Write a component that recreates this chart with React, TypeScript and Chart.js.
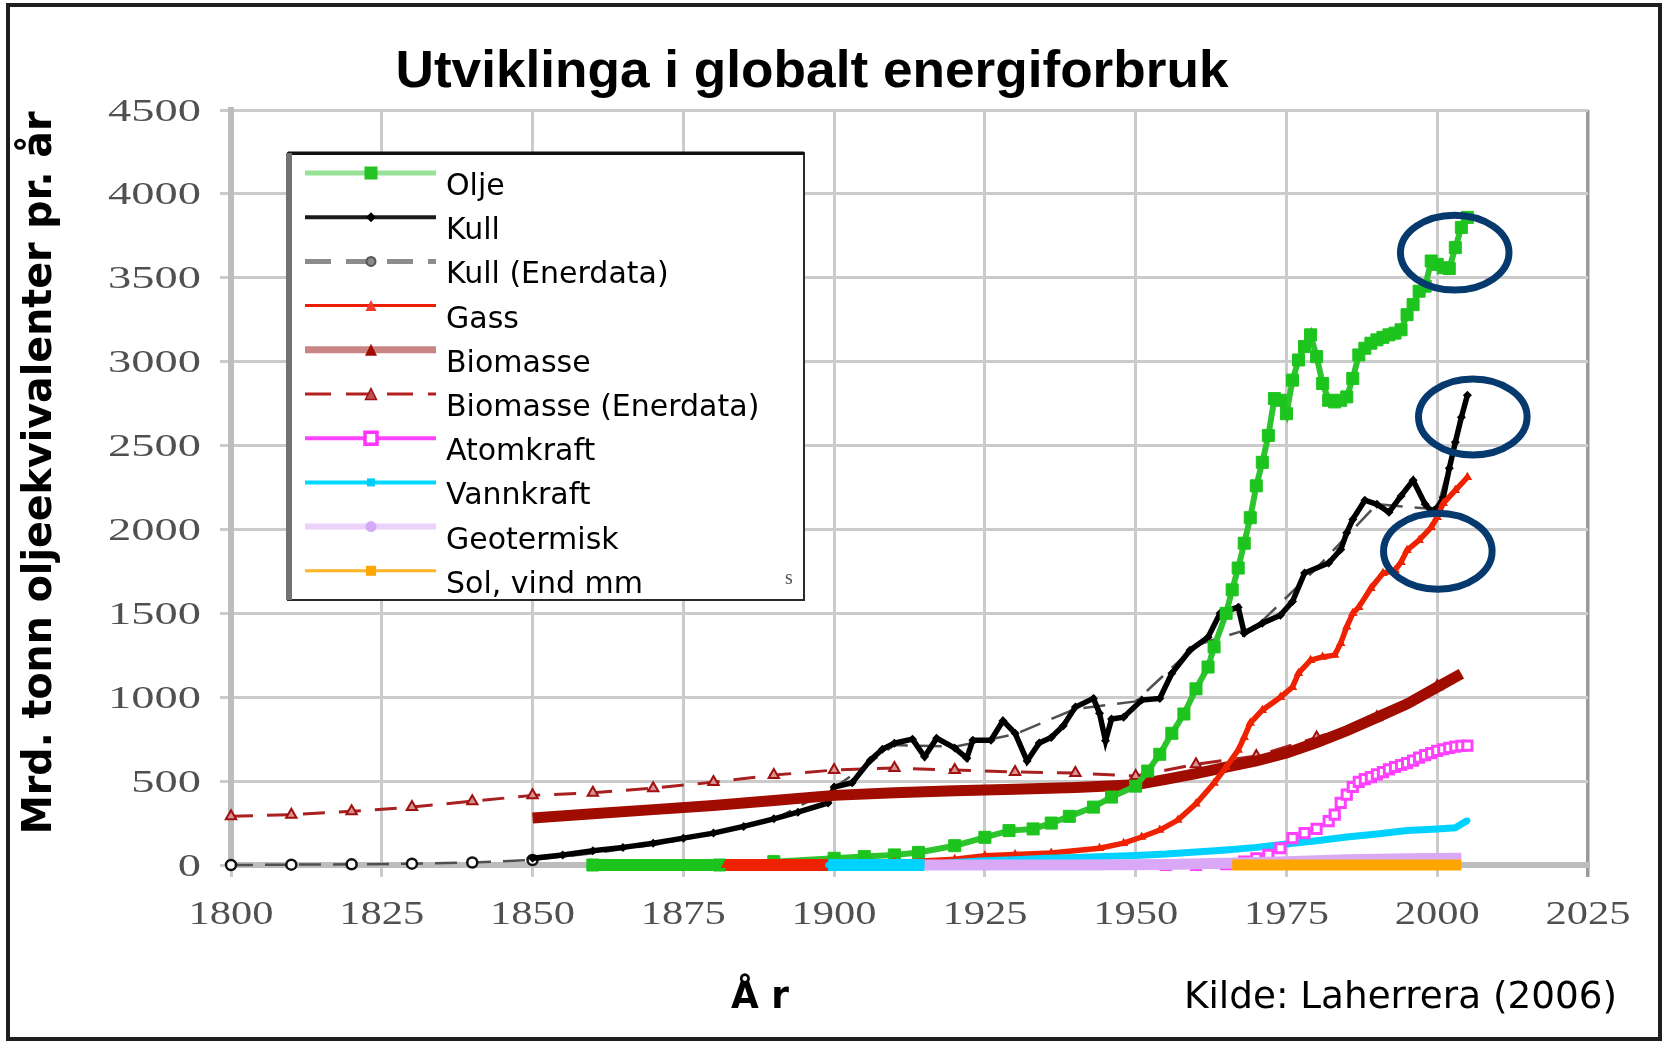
import React, { useEffect, useRef } from 'react';
import { Chart, registerables } from 'chart.js';

Chart.register(...registerables);

type Pt = [number, number];

const xTickValues = [1800, 1825, 1850, 1875, 1900, 1925, 1950, 1975, 2000, 2025];
const yTickValues = [0, 500, 1000, 1500, 2000, 2500, 3000, 3500, 4000, 4500];

const olje: Pt[] = [
  [1860, 0], [1881, 0], [1890, 20], [1900, 40], [1905, 50], [1910, 60], [1914, 75], [1920, 115],
  [1925, 165], [1929, 205], [1933, 215], [1936, 250], [1939, 290], [1943, 345], [1946, 405],
  [1950, 470], [1952, 560], [1954, 660], [1956, 785], [1958, 900], [1960, 1050], [1962, 1180],
  [1963, 1300], [1965, 1500], [1966, 1640], [1967, 1770], [1968, 1918], [1969, 2070], [1970, 2260],
  [1971, 2400], [1972, 2560], [1973, 2780], [1974, 2770], [1975, 2690], [1976, 2890], [1977, 3010],
  [1978, 3090], [1979, 3160], [1980, 3030], [1981, 2870], [1982, 2770], [1983, 2760], [1984, 2770],
  [1985, 2790], [1986, 2900], [1987, 3040], [1988, 3080], [1989, 3110], [1990, 3130], [1991, 3145],
  [1992, 3160], [1993, 3170], [1994, 3190], [1995, 3280], [1996, 3340], [1997, 3420], [1998, 3450],
  [1999, 3600], [2000, 3580], [2001, 3560], [2002, 3555], [2003, 3680], [2004, 3800], [2005, 3860],
];

const kull: Pt[] = [
  [1850, 40], [1855, 60], [1860, 85], [1865, 105], [1870, 130], [1875, 160], [1880, 190], [1885, 230],
  [1890, 275], [1894, 315], [1899, 370], [1900, 465], [1903, 490], [1906, 625], [1908, 690],
  [1910, 726], [1913, 750], [1915, 645], [1917, 756], [1920, 697], [1922, 637], [1923, 744],
  [1926, 744], [1928, 860], [1930, 786], [1932, 620], [1934, 727], [1936, 760], [1938, 830],
  [1940, 941], [1943, 993], [1944, 905], [1945, 740], [1946, 870], [1948, 881], [1951, 983],
  [1954, 993], [1956, 1143], [1959, 1280], [1962, 1358], [1964, 1500], [1967, 1537], [1968, 1382],
  [1971, 1441], [1974, 1489], [1976, 1570], [1978, 1740], [1982, 1800], [1984, 1880], [1985, 1980],
  [1986, 2060], [1988, 2174], [1990, 2150], [1992, 2102], [1994, 2200], [1996, 2293], [1998, 2150],
  [1999, 2110], [2000, 2130], [2001, 2190], [2002, 2364], [2003, 2519], [2004, 2668], [2005, 2800],
];

const kullEnerdata: Pt[] = [
  [1800, 0], [1810, 2], [1820, 4], [1830, 8], [1840, 15], [1850, 30], [1860, 70], [1870, 120],
  [1880, 185], [1890, 270], [1900, 460], [1910, 715], [1920, 705], [1930, 780], [1940, 930],
  [1950, 975], [1960, 1310], [1970, 1420], [1980, 1770], [1990, 2150], [2000, 2120], [2005, 2790],
];

const gass: Pt[] = [
  [1882, 0], [1899, 0], [1910, 15], [1920, 35], [1925, 55], [1930, 62], [1936, 72], [1944, 100],
  [1948, 130], [1951, 167], [1954, 208], [1957, 268], [1960, 365], [1963, 488], [1965, 584],
  [1967, 685], [1968, 762], [1969, 846], [1971, 923], [1974, 1000], [1976, 1060], [1977, 1143],
  [1979, 1221], [1981, 1240], [1983, 1251], [1984, 1322], [1985, 1420], [1986, 1500], [1987, 1537],
  [1989, 1650], [1991, 1739], [1993, 1757], [1994, 1805], [1995, 1876], [1997, 1936], [1999, 2013],
  [2000, 2073], [2001, 2156], [2003, 2233], [2005, 2311],
];

const biomasse: Pt[] = [
  [1850, 280], [1860, 305], [1870, 330], [1880, 355], [1890, 385], [1900, 415], [1910, 430],
  [1920, 442], [1930, 452], [1940, 462], [1950, 478], [1955, 510], [1960, 545], [1965, 583],
  [1970, 620], [1975, 667], [1980, 730], [1985, 800], [1990, 880], [1995, 960], [2000, 1060],
  [2004, 1140],
];

const biomasseEnerdata: Pt[] = [
  [1800, 290], [1810, 300], [1820, 320], [1830, 345], [1840, 380], [1850, 415], [1860, 430],
  [1870, 458], [1880, 494], [1890, 536], [1900, 566], [1910, 578], [1920, 566], [1930, 555],
  [1940, 548], [1950, 530], [1960, 600], [1970, 650], [1980, 760], [1990, 880], [2000, 1066],
];

const atomkraft: Pt[] = [
  [1955, 0], [1960, 0], [1965, 5], [1968, 20], [1970, 40], [1972, 60], [1974, 100], [1976, 160],
  [1978, 190], [1980, 215], [1982, 262], [1983, 300], [1984, 370], [1985, 420], [1986, 465],
  [1987, 495], [1988, 512], [1989, 524], [1990, 540], [1991, 554], [1992, 570], [1993, 584],
  [1994, 596], [1995, 607], [1996, 622], [1997, 640], [1998, 655], [1999, 667], [2000, 680],
  [2001, 690], [2002, 698], [2003, 705], [2004, 710], [2005, 712],
];

const vannkraft: Pt[] = [
  [1899, 0], [1915, 0], [1920, 15], [1925, 25], [1930, 32], [1935, 40], [1940, 45], [1945, 50],
  [1950, 57], [1955, 65], [1960, 78], [1965, 90], [1970, 105], [1975, 125], [1980, 145],
  [1985, 167], [1990, 185], [1995, 205], [2000, 215], [2003, 222], [2005, 265],
];

const geotermisk: Pt[] = [
  [1915, 0], [1940, 0], [1955, 3], [1965, 10], [1975, 20], [1985, 32], [1995, 38], [2004, 40],
];

const solVind: Pt[] = [[1966, 0], [2004, 0]];

const seriesNames = [
  'Olje', 'Kull', 'Kull (Enerdata)', 'Gass', 'Biomasse', 'Biomasse (Enerdata)',
  'Atomkraft', 'Vannkraft', 'Geotermisk', 'Sol, vind mm',
];

// highlighted regions (centre year/value and half-extent in years/value)
const highlightCenters: Pt[] = [[2002.9, 3650], [2005.9, 2670], [2000.1, 1870]];
const highlightHalfSizes: Pt[] = [[9, 223], [9, 226], [9, 226]];

const TITLE = 'Utviklinga i globalt energiforbruk';
const Y_TITLE = 'Mrd. tonn oljeekvivalenter pr. år';
const X_TITLE = 'Å r';
const SOURCE = 'Kilde: Laherrera (2006)';

type LegendStyle = {
  line: string; lw: number; dash: number[];
  marker: string; mFill: string | null; mStroke: string | null; mLw: number; mSize: number;
};

const legendStyles: LegendStyle[] = [
  { line: '#96e296', lw: 5, dash: [], marker: 'rect', mFill: '#22c322', mStroke: null, mLw: 0, mSize: 13 },
  { line: '#1a1a1a', lw: 4, dash: [], marker: 'diamond', mFill: '#000', mStroke: null, mLw: 0, mSize: 10 },
  { line: '#8c8c8c', lw: 5, dash: [26, 15], marker: 'circle', mFill: '#8a8a8a', mStroke: '#555', mLw: 2, mSize: 9 },
  { line: '#ee1c00', lw: 3, dash: [], marker: 'triangle', mFill: '#f03a2a', mStroke: null, mLw: 0, mSize: 11 },
  { line: '#c98484', lw: 7, dash: [], marker: 'triangle', mFill: '#a00c00', mStroke: null, mLw: 0, mSize: 12 },
  { line: '#b02020', lw: 3, dash: [26, 15], marker: 'triangle', mFill: '#c05050', mStroke: '#a01010', mLw: 1.5, mSize: 11 },
  { line: '#ff44ff', lw: 4, dash: [], marker: 'rect', mFill: '#ffffff', mStroke: '#ff33ff', mLw: 3.5, mSize: 12 },
  { line: '#00d8ff', lw: 4, dash: [], marker: 'rect', mFill: '#00ccf5', mStroke: null, mLw: 0, mSize: 8 },
  { line: '#ecd2fa', lw: 6, dash: [], marker: 'circle', mFill: '#d4aaf8', mStroke: null, mLw: 0, mSize: 11 },
  { line: '#ffb424', lw: 3, dash: [], marker: 'rect', mFill: '#ffa500', mStroke: null, mLw: 0, mSize: 10 },
];

function drawMarker(ctx: CanvasRenderingContext2D, kind: string, x: number, y: number, s: number,
  fill: string | null, stroke: string | null, lw: number) {
  ctx.save();
  ctx.setLineDash([]);
  ctx.beginPath();
  if (kind === 'rect') ctx.rect(x - s / 2, y - s / 2, s, s);
  else if (kind === 'diamond') {
    ctx.moveTo(x, y - s / 2); ctx.lineTo(x + s / 2, y); ctx.lineTo(x, y + s / 2); ctx.lineTo(x - s / 2, y); ctx.closePath();
  } else if (kind === 'circle') ctx.arc(x, y, s / 2, 0, Math.PI * 2);
  else {
    ctx.moveTo(x, y - s / 2); ctx.lineTo(x + s / 2, y + s / 2); ctx.lineTo(x - s / 2, y + s / 2); ctx.closePath();
  }
  if (fill) { ctx.fillStyle = fill; ctx.fill(); }
  if (stroke && lw) { ctx.strokeStyle = stroke; ctx.lineWidth = lw; ctx.stroke(); }
  ctx.restore();
}

function fitText(ctx: CanvasRenderingContext2D, text: string, x: number, y: number, font: string,
  targetW: number, align: CanvasTextAlign) {
  ctx.save();
  ctx.font = font;
  const w = ctx.measureText(text).width;
  ctx.translate(x, y);
  ctx.scale(targetW / w, 1);
  ctx.textAlign = align;
  ctx.textBaseline = 'alphabetic';
  ctx.fillText(text, 0, 0);
  ctx.restore();
}

const decorPlugin = {
  id: 'decor',
  beforeDraw(chart: any) {
    const ctx = chart.ctx as CanvasRenderingContext2D;
    ctx.save();
    ctx.fillStyle = '#ffffff';
    ctx.fillRect(0, 0, chart.width, chart.height);
    ctx.restore();
  },
  afterDraw(chart: any) {
    const ctx = chart.ctx as CanvasRenderingContext2D;
    const xs = chart.scales.x;
    const ys = chart.scales.y;

    // tick labels (wide serif)
    ctx.save();
    ctx.fillStyle = '#505050';
    ctx.font = '32px "Liberation Serif"';
    const sy = 93 / ctx.measureText('4500').width;
    ys.ticks.forEach((t: any) => {
      const y = ys.getPixelForValue(t.value);
      ctx.save();
      ctx.translate(xs.left - 30, y + 10.5);
      ctx.scale(sy, 1);
      ctx.textAlign = 'right';
      ctx.fillText(String(t.value), 0, 0);
      ctx.restore();
    });
    ctx.font = '34px "Liberation Serif"';
    const sx = 85 / ctx.measureText('1800').width;
    xs.ticks.forEach((t: any) => {
      const x = xs.getPixelForValue(t.value);
      ctx.save();
      ctx.translate(x, ys.bottom + 59);
      ctx.scale(sx, 1);
      ctx.textAlign = 'center';
      ctx.fillText(String(t.value), 0, 0);
      ctx.restore();
    });
    ctx.restore();

    // legend box
    const bx0 = 288, by0 = 153, bx1 = 804, by1 = 600;
    ctx.save();
    ctx.fillStyle = '#ffffff';
    ctx.fillRect(bx0, by0, bx1 - bx0, by1 - by0);
    ctx.strokeStyle = '#2a2a2a';
    ctx.lineWidth = 2;
    ctx.strokeRect(bx0, by0, bx1 - bx0, by1 - by0);
    ctx.fillStyle = '#111';
    ctx.fillRect(bx0, by0 - 1.5, bx1 - bx0, 3.5);
    ctx.fillStyle = '#727272';
    ctx.fillRect(bx0 - 2, by0, 6, by1 - by0);
    const lx0 = 305, lx1 = 436, mx = 371, tx = 446;
    ctx.font = '30px "DejaVu Sans"';
    ctx.textBaseline = 'alphabetic';
    ctx.textAlign = 'left';
    seriesNames.forEach((name, i) => {
      const st = legendStyles[i];
      const y = 173 + i * 44.2;
      ctx.save();
      ctx.strokeStyle = st.line;
      ctx.lineWidth = st.lw;
      ctx.setLineDash(st.dash);
      ctx.beginPath();
      ctx.moveTo(lx0, y);
      ctx.lineTo(lx1, y);
      ctx.stroke();
      ctx.restore();
      drawMarker(ctx, st.marker, mx, y, st.mSize, st.mFill, st.mStroke, st.mLw);
      ctx.fillStyle = '#000';
      ctx.fillText(name, tx, y + 22);
    });
    ctx.fillStyle = '#555';
    ctx.font = '20px "Liberation Serif"';
    ctx.fillText('s', 785, 584);
    ctx.restore();

    // highlight ellipses
    ctx.save();
    ctx.strokeStyle = '#063a6e';
    ctx.lineWidth = 7;
    highlightCenters.forEach(([cy, cv], i) => {
      const [hy, hv] = highlightHalfSizes[i];
      const px = xs.getPixelForValue(cy);
      const py = ys.getPixelForValue(cv);
      const rx = Math.abs(xs.getPixelForValue(cy + hy) - px);
      const ry = Math.abs(ys.getPixelForValue(cv + hv) - py);
      ctx.beginPath();
      ctx.ellipse(px, py, rx, ry, 0, 0, Math.PI * 2);
      ctx.stroke();
    });
    ctx.restore();

    // texts
    ctx.save();
    ctx.fillStyle = '#000';
    fitText(ctx, TITLE, 812, 87, 'bold 52px "Liberation Sans"', 833, 'center');
    fitText(ctx, X_TITLE, 760, 1008, 'bold 37px "DejaVu Sans"', 58, 'center');
    fitText(ctx, SOURCE, 1184, 1008, '38px "DejaVu Sans"', 433, 'left');
    ctx.save();
    ctx.translate(51, 473);
    ctx.rotate(-Math.PI / 2);
    fitText(ctx, Y_TITLE, 0, 0, 'bold 40px "DejaVu Sans"', 723, 'center');
    ctx.restore();
    ctx.restore();

    // outer frame
    ctx.save();
    ctx.strokeStyle = '#1e1e1e';
    ctx.lineWidth = 4;
    ctx.strokeRect(8, 5, 1652, 1034);
    ctx.restore();
  },
};

const toXY = (arr: Pt[]) => arr.map(([x, y]) => ({ x, y }));

const zeroSeg = (width: number, color: string) => ({
  borderWidth: (c: any) => (c.p0.parsed.y === 0 && c.p1.parsed.y === 0 ? width : undefined),
  borderColor: (c: any) => (c.p0.parsed.y === 0 && c.p1.parsed.y === 0 ? color : undefined),
});

export default function App() {
  const ref = useRef<HTMLCanvasElement | null>(null);

  useEffect(() => {
    document.body.style.margin = '0';
    const canvas = ref.current;
    if (!canvas) return;
    const base = { fill: false, tension: 0, clip: false as any, pointHoverRadius: 0 };
    // drawn bottom to top: higher order drawn first
    const chart = new Chart(canvas, {
      type: 'line',
      data: {
        datasets: [
          {
            ...base, label: seriesNames[5], data: toXY(biomasseEnerdata), order: 10,
            borderColor: '#a82020', borderWidth: 3, borderDash: [22, 14],
            pointStyle: 'triangle', pointRadius: 6, pointBackgroundColor: '#d89090',
            pointBorderColor: '#a01010', pointBorderWidth: 2,
          },
          {
            ...base, label: seriesNames[2], data: toXY(kullEnerdata), order: 9,
            borderColor: '#505050', borderWidth: 2.5, borderDash: [22, 12],
            pointStyle: 'circle',
            pointRadius: (c: any) => (c.raw && c.raw.x <= 1850 ? 5 : 0),
            pointBackgroundColor: '#ffffff',
            pointBorderColor: '#111', pointBorderWidth: 2.5,
          },
          {
            ...base, label: seriesNames[1], data: toXY(kull), order: 8,
            borderColor: '#000000', borderWidth: 5.5,
            pointStyle: 'rectRot', pointRadius: 4.5, pointBackgroundColor: '#000', pointBorderWidth: 0,
          },
          {
            ...base, label: seriesNames[4], data: toXY(biomasse), order: 7,
            borderColor: '#a00c00', borderWidth: 11, pointRadius: 0,
          },
          {
            ...base, label: seriesNames[0], data: toXY(olje), order: 6,
            borderColor: '#2ec42e', borderWidth: 6,
            pointStyle: 'rect', pointRadius: 8.5, pointBackgroundColor: '#1ec41e',
            pointBorderColor: '#1ec41e', pointBorderWidth: 1,
            segment: zeroSeg(12, '#1ec41e'),
          },
          {
            ...base, label: seriesNames[3], data: toXY(gass), order: 5,
            borderColor: '#ee2200', borderWidth: 5.5,
            pointStyle: 'triangle', pointRadius: 5.5, pointBackgroundColor: '#ee2200', pointBorderWidth: 0,
            segment: zeroSeg(12, '#ee2200'),
          },
          {
            ...base, label: seriesNames[7], data: toXY(vannkraft), order: 4,
            borderColor: '#00d2ff', borderWidth: 7,
            pointRadius: 3, pointBackgroundColor: '#00d2ff', pointBorderWidth: 0,
            segment: zeroSeg(12, '#00d2ff'),
          },
          {
            ...base, label: seriesNames[6], data: toXY(atomkraft), order: 3,
            borderColor: '#ff40ff', borderWidth: 3.5,
            pointStyle: 'rect', pointRadius: 6.5, pointBackgroundColor: '#ffffff',
            pointBorderColor: '#ff40ff', pointBorderWidth: 3,
          },
          {
            ...base, label: seriesNames[8], data: toXY(geotermisk), order: 2,
            borderColor: '#d9a9f7', borderWidth: 11, pointRadius: 0,
          },
          {
            ...base, label: seriesNames[9], data: toXY(solVind), order: 1,
            borderColor: '#ffa500', borderWidth: 11, pointRadius: 0,
          },
        ] as any,
      },
      options: {
        responsive: false,
        animation: false,
        devicePixelRatio: 1,
        events: [],
        layout: { padding: { top: 110, right: 80, bottom: 0, left: 0 } },
        plugins: { legend: { display: false }, tooltip: { enabled: false }, title: { display: false } },
        scales: {
          x: {
            type: 'linear', min: 1800, max: 2025,
            afterBuildTicks: (s: any) => { s.ticks = xTickValues.map((v) => ({ value: v })); },
            afterFit: (s: any) => { s.height = 178; },
            ticks: { display: false },
            grid: {
              color: (c: any) => (c.tick && c.tick.value === 2025 ? '#9a9a9a' : '#cbcbcb'),
              lineWidth: (c: any) => (c.tick && c.tick.value === 2025 ? 3.5 : 3),
              tickLength: 12, drawTicks: true,
            },
            border: { display: true, color: '#bdbdbd', width: 6 },
          },
          y: {
            type: 'linear', min: 0, max: 4500,
            afterBuildTicks: (s: any) => { s.ticks = yTickValues.map((v) => ({ value: v })); },
            afterFit: (s: any) => { s.width = 231; },
            ticks: { display: false },
            grid: { color: '#cbcbcb', lineWidth: 3, tickLength: 11, drawTicks: true },
            border: { display: true, color: '#bdbdbd', width: 6 },
          },
        },
      } as any,
      plugins: [decorPlugin],
    });
    return () => chart.destroy();
  }, []);

  return (
    <div style={{ width: 1668, height: 1043, background: '#fff' }}>
      <canvas ref={ref} width={1668} height={1043} style={{ display: 'block' }} />
    </div>
  );
}
